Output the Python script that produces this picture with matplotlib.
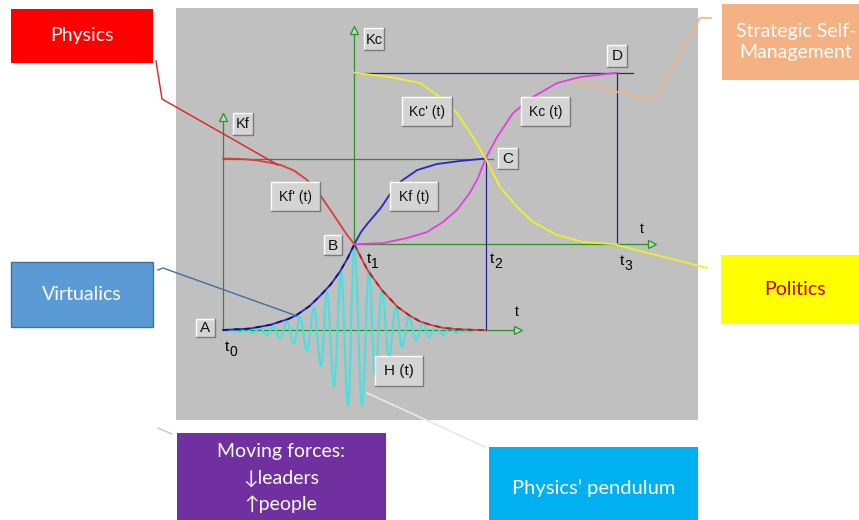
import matplotlib
matplotlib.use('Agg')
import matplotlib.pyplot as plt
from matplotlib.patches import Rectangle, PathPatch
from matplotlib.path import Path
from matplotlib.transforms import Affine2D

plt.rcParams['font.family'] = ['Liberation Sans', 'DejaVu Sans']

# time marks t0..t3 on the diagram
t_marks = [0, 1, 2, 3]
t_names = ['0', '1', '2', '3']

# Kf(t) - rising curve of the lower frame (A -> B -> C)
kf_t = [0, 0.2, 0.36, 0.5, 0.56, 0.66, 0.74, 0.82, 0.89, 0.95, 1.0, 1.05, 1.1, 1.2,
        1.27, 1.36, 1.48, 1.63, 1.8, 2.0]
kf_k = [0, 0.008, 0.03, 0.065, 0.087, 0.14, 0.20, 0.265, 0.34, 0.42, 0.5, 0.57, 0.62, 0.71,
        0.79, 0.87, 0.933, 0.968, 0.985, 1.0]

# Kf'(t) - falling curve of the lower frame
kfp_t = [0, 0.12, 0.25, 0.36, 0.44, 0.54, 0.64, 0.75, 0.87, 0.94, 1.0, 1.1, 1.21, 1.33,
         1.42, 1.5, 1.58, 1.68, 1.8, 1.9, 2.0]
kfp_k = [1.0, 0.998, 0.99, 0.975, 0.962, 0.93, 0.875, 0.776, 0.64, 0.56, 0.5, 0.35, 0.233,
         0.134, 0.085, 0.05, 0.03, 0.012, 0.004, 0.001, 0.0]

# Kc(t) - rising curve of the upper frame (B -> C -> D), upper frame starts at B
kc_base = 0.5
kc_t = [1.0, 1.22, 1.4, 1.554, 1.676, 1.782, 1.88, 1.942, 2.0, 2.087, 2.209, 2.36, 2.544,
        2.72, 3.0]
kc_k = [0, 0.007, 0.036, 0.071, 0.13, 0.20, 0.30, 0.386, 0.5, 0.625, 0.765, 0.859, 0.94,
        0.975, 1.0]

# Kc'(t) - falling curve of the upper frame
kcp_t = [1.0, 1.272, 1.5, 1.653, 1.782, 1.904, 2.0, 2.11, 2.24, 2.36, 2.544, 2.742, 3.0]
kcp_k = [1.0, 0.975, 0.94, 0.859, 0.765, 0.625, 0.5, 0.334, 0.217, 0.13, 0.054, 0.013, 0.0]

# H(t) - pendulum oscillation, its extrema
h_t = [0, 0.03, 0.076, 0.129, 0.175, 0.228, 0.282, 0.335, 0.381, 0.434, 0.487, 0.541,
       0.586, 0.64, 0.693, 0.746, 0.792, 0.845, 0.899, 0.952, 1.0, 1.059, 1.112, 1.158,
       1.211, 1.264, 1.318, 1.363, 1.417, 1.47, 1.523, 1.569, 1.622, 1.676, 1.729, 1.775,
       1.828, 1.881, 1.934, 1.98, 2.0]
h_k = [0, -0.006, 0.0, -0.012, 0.006, -0.017, 0.012, -0.029, 0.023, -0.047, 0.047, -0.076,
       0.076, -0.122, 0.128, -0.21, 0.222, -0.327, 0.338, -0.437, 0.5, -0.437, 0.35, -0.262,
       0.233, -0.163, 0.14, -0.099, 0.082, -0.058, 0.047, -0.041, 0.023, -0.029, 0.012,
       -0.017, 0.006, -0.012, 0.0, -0.006, 0]

W, H = 859, 520
X0, SX = 223, 131.3   # pixel of t0, pixels per t unit
Y0, SY = 330, 171.5   # pixel of K=0, pixels per K unit

fig = plt.figure(figsize=(W / 100, H / 100), dpi=100)
ax = fig.add_axes([0, 0, 1, 1])
ax.set_xlim(-X0 / SX, (W - X0) / SX)
ax.set_ylim((Y0 - H) / SY, Y0 / SY)
ax.axis('off')
fig.patch.set_facecolor('white')

# pixel coordinates for the decoration
px = Affine2D().scale(1 / W, -1 / H).translate(0, 1) + fig.transFigure

green = '#2f8f2f'
navy = '#24248a'

# grey panel
ax.add_patch(Rectangle((176, 8), 522, 412, transform=px, fc='#c0c0c0', ec='none', zorder=0))

# frames
ax.plot([0, 0], [0, 1.24], color=green, lw=0.9, zorder=2)
ax.plot([0, 2.25], [0, 0], color=green, lw=0.9, zorder=2)
ax.plot([0, 2.056], [1, 1], color=green, lw=0.9, zorder=2)
ax.plot([1, 1], [kc_base, kc_base + 1.25], color=green, lw=0.9, zorder=2)
ax.plot([1, 3.27], [kc_base, kc_base], color=green, lw=0.9, zorder=2)
ax.plot([1, 3.12], [kc_base + 1, kc_base + 1], color=navy, lw=0.9, zorder=2)
ax.plot([2, 2], [0, 1], color=navy, lw=0.9, zorder=2)
ax.plot([3, 3], [kc_base, kc_base + 1], color=navy, lw=0.9, zorder=2)

arrow_kw = dict(ls='none', ms=6, mfc='#b8dcb8', mec=green, mew=0.9, zorder=3)
ax.plot([0], [1.24], marker='^', **arrow_kw)
ax.plot([1], [kc_base + 1.25], marker='^', **arrow_kw)
ax.plot([2.25], [0], marker='>', **arrow_kw)
ax.plot([3.27], [kc_base], marker='>', **arrow_kw)

# H(t) as smooth segments between extrema
verts = [(h_t[0], h_k[0])]
codes = [Path.MOVETO]
for i in range(len(h_t) - 1):
    dt = h_t[i + 1] - h_t[i]
    verts += [(h_t[i] + 0.364 * dt, h_k[i]), (h_t[i + 1] - 0.364 * dt, h_k[i + 1]),
              (h_t[i + 1], h_k[i + 1])]
    codes += [Path.CURVE4] * 3
ax.add_patch(PathPatch(Path(verts, codes), fc='none', ec='#48e0e0', lw=1.5, zorder=3))

# curves
ax.plot(kf_t, kf_k, color='#2828c8', lw=1.3, zorder=4)
ax.plot(kfp_t, kfp_k, color='#e03a3a', lw=1.3, zorder=4)
# lower halves look dashed where they frame the pendulum
n_kf = kf_t.index(1.0) + 1
n_kfp = kfp_t.index(1.0)
ax.plot(kf_t[:n_kf], kf_k[:n_kf], color='#14146e', lw=1.3, ls=(0, (3, 3)), zorder=4)
ax.plot(kfp_t[n_kfp:], kfp_k[n_kfp:], color='#9a2a2a', lw=1.3, ls=(0, (3, 3)), zorder=4)
ax.plot(kc_t, [kc_base + k for k in kc_k], color='#e040e0', lw=1.3, zorder=4)
ax.plot(kcp_t, [kc_base + k for k in kcp_k], color='#f0f028', lw=1.3, zorder=4)


def bevel(x0, y0, x1, y1, s, fs=10):
    ax.add_patch(Rectangle((x0, y0), x1 - x0, y1 - y0, transform=px, fc='#d4d4d4',
                           ec='none', zorder=6))
    ax.plot([x0, x0, x1], [y1, y0, y0], transform=px, color='white', lw=1, zorder=7)
    ax.plot([x0, x1, x1], [y1, y1, y0], transform=px, color='#7a7a7a', lw=1, zorder=7)
    ax.text((x0 + x1) / 2, (y0 + y1) / 2 + 0.5, s, transform=px, ha='center',
            va='center', fontsize=fs, color='#111111', zorder=8)


bevel(233, 113, 253, 135, 'Kf', 10.5)
bevel(364, 28, 384, 50, 'Kc', 10.5)
bevel(271, 182, 320, 211, "Kf' (t)")
bevel(390, 182, 438, 211, 'Kf (t)')
bevel(402, 97, 452, 126, "Kc' (t)")
bevel(521, 97, 570, 126, 'Kc (t)')
bevel(498, 148, 518, 169, 'C', 11)
bevel(607, 45, 627, 67, 'D', 11)
bevel(324, 235, 342, 255, 'B', 11)
bevel(196, 319, 215, 337, 'A', 11)
bevel(375, 356, 423, 386, 'H (t)', 11)

# t labels
ax.text(517, 312, 't', transform=px, ha='center', va='center', fontsize=10, zorder=8)
ax.text(642, 229, 't', transform=px, ha='center', va='center', fontsize=10, zorder=8)
sub_pos = [(227, 347), (369, 259), (492, 259), (622, 261)]
for (x, y), n in zip(sub_pos, t_names):
    ax.text(x, y, 't', transform=px, ha='center', va='center', fontsize=11, zorder=8)
    ax.text(x + 6, y + 5, n, transform=px, ha='center', va='center', fontsize=10, zorder=8)

# leader lines
ax.plot([156, 162, 278], [61, 99, 165], transform=px, color='#e02020', lw=1, zorder=9)
ax.plot([158, 163, 297], [270, 268, 316], transform=px, color='#41719c', lw=1, zorder=9)
ax.plot([711, 700, 653, 573], [18, 18, 100, 82], transform=px, color='#f4b183', lw=1.2,
        zorder=9)
ax.plot([617, 707], [245, 268], transform=px, color='#f0f028', lw=1.3, zorder=4)
ax.plot([367, 485], [393, 447], transform=px, color='#e8e8e8', lw=1.2, zorder=9)
ax.plot([158, 172], [428, 434], transform=px, color='#c8c8c8', lw=1, zorder=9)

box_font = ['Lato', 'DejaVu Sans']


def box(x0, y0, x1, y1, fc, s, tc='white', ec='none', fs=14):
    ax.add_patch(Rectangle((x0, y0), x1 - x0, y1 - y0, transform=px, fc=fc, ec=ec,
                           lw=1, zorder=10))
    ax.text((x0 + x1) / 2, (y0 + y1) / 2, s, transform=px, ha='center', va='center',
            fontsize=fs, color=tc, family=box_font, linespacing=1.25, zorder=11)


box(11, 9, 153, 63, '#ff0000', 'Physics')
box(11, 262, 153, 327, '#5b9bd5', 'Virtualics', ec='#41719c')
box(722, 4, 870, 80, '#f4b183', 'Strategic Self-\nManagement')
box(721, 255, 870, 324, '#ffff00', 'Politics', tc='#c00000')
box(177, 433, 386, 530, '#7030a0', '')
box(489, 447, 698, 530, '#00b0f0', 'Physics\u2019 pendulum', fs=14.5)
for y, s in zip([452, 478, 504], ['Moving forces:', '\u2193leaders', '\u2191people']):
    ax.text(281, y, s, transform=px, ha='center', va='center', fontsize=14, color='white',
            family=box_font, zorder=11)

fig.savefig('out.png', dpi=100)
